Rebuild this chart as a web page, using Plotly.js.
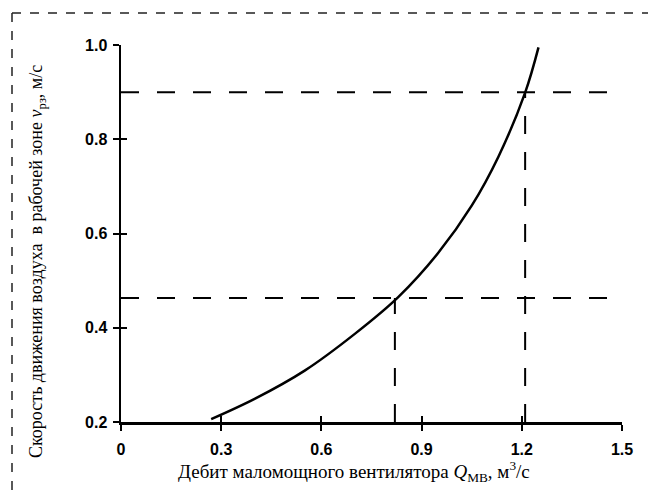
<!DOCTYPE html>
<html>
<head>
<meta charset="utf-8">
<script src="https://cdn.plot.ly/plotly-3.0.1.min.js"></script>
<style>html,body{margin:0;padding:0;background:#fff;}#chart{width:653px;height:496px;}</style>
</head>
<body>
<div id="chart"></div>
<script>
// Curve: air velocity in work zone vs. low-power fan flow
const flowQ = [0.27, 0.40, 0.55, 0.70, 0.83, 0.95, 1.05, 1.13, 1.21, 1.25];
const velocityV = [0.206, 0.249, 0.309, 0.387, 0.465, 0.559, 0.659, 0.763, 0.899, 0.995];

// Reference (dashed) readings
const refQ = [0.82, 1.21];
const refV = [0.463, 0.90];

const xTicks = [0, 0.3, 0.6, 0.9, 1.2, 1.5];
const xTickText = ['0', '0.3', '0.6', '0.9', '1.2', '1.5'];
const yTicks = [0.2, 0.4, 0.6, 0.8, 1.0];
const yTickText = ['0.2', '0.4', '0.6', '0.8', '1.0'];

const xRange = [0, 1.5];
const yRange = [0.2, 1.0];

const dashStyle = {color: '#000', width: 2, dash: '18px,18px'};
const traces = [];

// horizontal dashed lines from the y-axis to the right edge
refV.forEach(v => {
  traces.push({x: [xRange[0], xRange[1]], y: [v, v], mode: 'lines',
    line: dashStyle, hoverinfo: 'skip', showlegend: false});
});
// vertical dashed lines from x-axis up to the reading
traces.push({x: [refQ[0], refQ[0]], y: [yRange[0], refV[0]], mode: 'lines',
  line: dashStyle, hoverinfo: 'skip', showlegend: false});
traces.push({x: [refQ[1], refQ[1]], y: [yRange[0], refV[1]], mode: 'lines',
  line: dashStyle, hoverinfo: 'skip', showlegend: false});

// main curve
traces.push({x: flowQ, y: velocityV, mode: 'lines',
  line: {color: '#000', width: 2.5, shape: 'spline', smoothing: 1},
  hoverinfo: 'skip', showlegend: false});

// invisible trace on overlay axes (inside ticks)
traces.push({x: [xRange[0]], y: [yRange[0]], xaxis: 'x2', yaxis: 'y2', mode: 'markers',
  marker: {opacity: 0}, hoverinfo: 'skip', showlegend: false});

const tickFont = {family: "'Liberation Sans', Arial, sans-serif", size: 16, color: '#000', weight: 'bold'};
const xTitleFont = {family: "'Liberation Serif', 'Times New Roman', serif", size: 19, color: '#000'};
const yTitleFont = {family: "'Liberation Serif', 'Times New Roman', serif", size: 18, color: '#000'};

const plotL = 121, plotR = 622, plotT = 45, plotB = 422, W = 653, H = 496;
const pw = plotR - plotL, ph = plotB - plotT;
const px = v => (v - plotL) / pw;
const py = v => (plotB - v) / ph;

const layout = {
  width: W, height: H,
  margin: {l: plotL, r: W - plotR, t: plotT, b: H - plotB, pad: 0},
  paper_bgcolor: '#fff', plot_bgcolor: '#fff',
  showlegend: false,
  xaxis: {range: xRange, tickvals: xTicks, ticktext: xTickText, ticks: 'outside', ticklen: 6,
    tickwidth: 2, tickcolor: '#000', showline: true, linewidth: 2.5, linecolor: '#000',
    showgrid: false, zeroline: false, tickfont: tickFont, ticklabelstandoff: 5, fixedrange: true},
  yaxis: {range: yRange, tickvals: yTicks, ticktext: yTickText, ticks: 'outside', ticklen: 6,
    tickwidth: 2, tickcolor: '#000', showline: true, linewidth: 2.5, linecolor: '#000',
    showgrid: false, zeroline: false, tickfont: tickFont, ticklabelstandoff: 2, fixedrange: true},
  xaxis2: {overlaying: 'x', anchor: 'y2', range: xRange, tickvals: xTicks, ticks: 'inside', ticklen: 6,
    tickwidth: 2, tickcolor: '#000', showticklabels: false, showline: false, showgrid: false,
    zeroline: false, side: 'bottom', fixedrange: true},
  yaxis2: {overlaying: 'y', anchor: 'x2', range: yRange, tickvals: yTicks, ticks: 'inside', ticklen: 6,
    tickwidth: 2, tickcolor: '#000', showticklabels: false, showline: false, showgrid: false,
    zeroline: false, side: 'left', fixedrange: true},
  annotations: [
    {xref: 'paper', yref: 'paper', x: px(354), y: py(471), xanchor: 'center', yanchor: 'middle',
      showarrow: false, font: xTitleFont,
      text: 'Дебит маломощного вентилятора <i>Q</i><sub>МВ</sub>, м<sup>3</sup>/с'},
    {xref: 'paper', yref: 'paper', x: px(37), y: py(262), xanchor: 'center', yanchor: 'middle',
      showarrow: false, font: yTitleFont, textangle: -90,
      text: 'Скорость движения воздуха  в рабочей зоне <i>v</i><sub>рз</sub>, м/с'}
  ],
  shapes: [
    {type: 'line', xref: 'paper', yref: 'paper', x0: px(12), x1: px(12), y0: py(13), y1: py(496),
      line: {color: '#222', width: 1.5, dash: '9px,9px'}},
    {type: 'line', xref: 'paper', yref: 'paper', x0: px(12), x1: px(648), y0: py(13), y1: py(13),
      line: {color: '#222', width: 1.5, dash: '9px,9px'}}
  ]
};

Plotly.newPlot('chart', traces, layout, {staticPlot: true, displayModeBar: false});
</script>
</body>
</html>
